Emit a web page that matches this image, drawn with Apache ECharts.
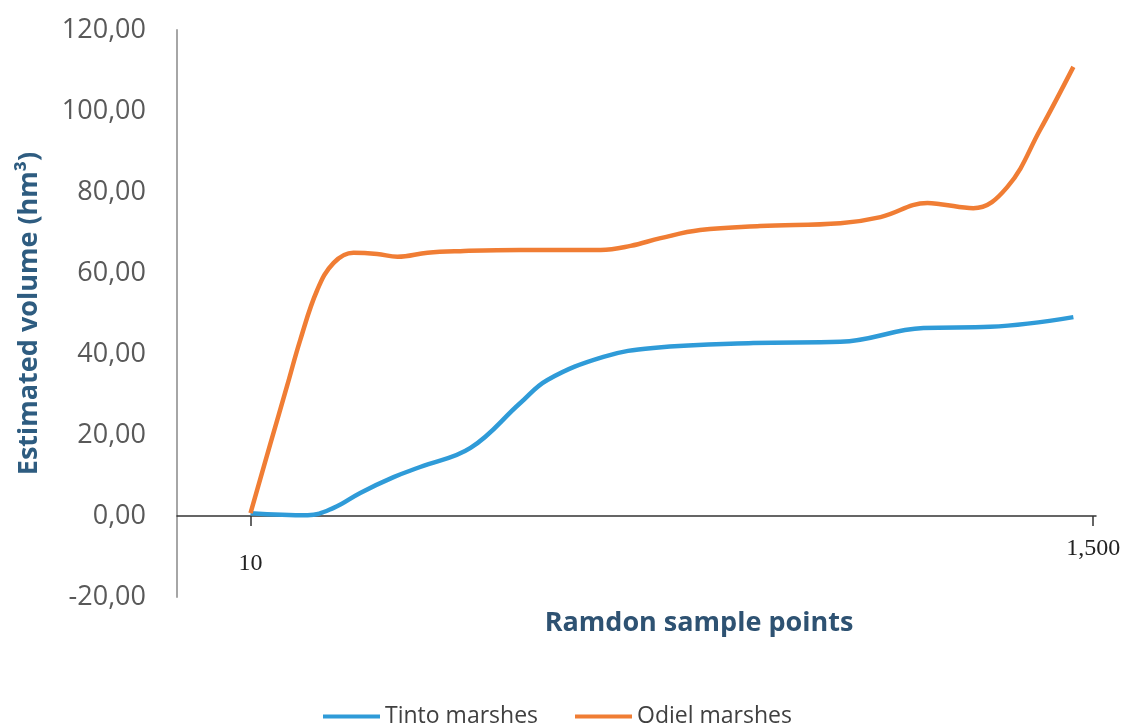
<!DOCTYPE html>
<html>
<head>
<meta charset="utf-8">
<script src="https://cdn.jsdelivr.net/npm/echarts@6/dist/echarts.min.js"></script>
<style>
html,body{margin:0;padding:0;background:#fff;}
#chart{width:1128px;height:728px;}
</style>
</head>
<body>
<div id="chart"></div>
<script>
// ---- data ----
const seriesNames = ['Tinto marshes', 'Odiel marshes'];
const xTickValues = [10, 1500];
const yMin = -20, yMax = 120, yStep = 20;
const tinto = [[10,0.7],[111,0.2],[157,2],[204,5.7],[263,9.6],[310,12.1],[399,16.8],[487,27.9],[535,33.6],[634,39.3],[722,41.5],[899,42.7],[1053,43],[1200,46.4],[1318,46.7],[1465,49.1]];
const odiel = [[10,0.7],[45,17.8],[75,32.3],[98,43.5],[128,55.8],[157,62.5],[192,65],[234,64.7],[270,64],[323,65],[381,65.4],[487,65.7],[629,65.7],[682,66.7],[735,68.6],[805,70.6],[911,71.6],[1053,72.3],[1124,73.8],[1207,77.3],[1230,77],[1288,76],[1348,81.2],[1406,95.3],[1465,110.9]];

const chart = echarts.init(document.getElementById('chart'));
chart.setOption({
  animation: false,
  backgroundColor: '#fff',
  grid: { left: 177, right: 32, top: 30, bottom: 131, containLabel: false },
  legend: {
    data: seriesNames,
    bottom: -5, left: 318,
    icon: 'rect', itemWidth: 57, itemHeight: 4, itemGap: 37,
    textStyle: { fontFamily: 'Open Sans', fontSize: 23, color: '#404040' }
  },
  graphic: [{
    type: 'text', x: 699, y: 623,
    style: { text: 'Ramdon sample points', fontFamily: 'Open Sans', fontWeight: 'bold', fontSize: 27, fill: '#2E5272', align: 'center', verticalAlign: 'middle' }
  }],
  xAxis: {
    type: 'value', min: -120, max: 1505,
    position: 'bottom', offset: -81,
    axisLine: { onZero: false, lineStyle: { color: '#333', width: 1.5 } },
    axisTick: { show: true, customValues: xTickValues, length: 10, inside: false, lineStyle: { color: '#333', width: 1.5 } },
    axisLabel: {
      customValues: xTickValues,
      formatter: v => v === 10 ? '{a|10}' : '{b|' + v.toLocaleString('en-US') + '}',
      rich: {
        a: { fontFamily: 'Liberation Serif', fontSize: 24, color: '#222', padding: [18,0,0,0] },
        b: { fontFamily: 'Liberation Serif', fontSize: 24, color: '#222', padding: [3,0,0,0] }
      },
      margin: 18
    },
    splitLine: { show: false }
  },
  yAxis: {
    type: 'value', min: yMin, max: yMax, interval: yStep,
    name: 'Estimated volume (hm³)', nameLocation: 'middle', nameRotate: 90, nameGap: 134,
    nameTextStyle: { fontFamily: 'Open Sans', fontWeight: 'bold', fontSize: 27, color: '#2E5C80' },
    axisLine: { show: true, onZero: false, lineStyle: { color: '#A6A6A6', width: 2 } },
    axisTick: { show: false },
    axisLabel: {
      formatter: v => v.toFixed(2).replace('.', ','),
      fontFamily: 'Open Sans', fontSize: 27, color: '#595959', margin: 31
    },
    splitLine: { show: false }
  },
  series: [
    { name: seriesNames[0], type: 'line', data: tinto, smooth: 0.4, showSymbol: false, symbol: 'none',
      lineStyle: { color: '#2F9BD8', width: 4.5 }, itemStyle: { color: '#2F9BD8' } },
    { name: seriesNames[1], type: 'line', data: odiel, smooth: 0.4, showSymbol: false, symbol: 'none',
      lineStyle: { color: '#F07D34', width: 4.5 }, itemStyle: { color: '#F07D34' } }
  ]
});
</script>
</body>
</html>
